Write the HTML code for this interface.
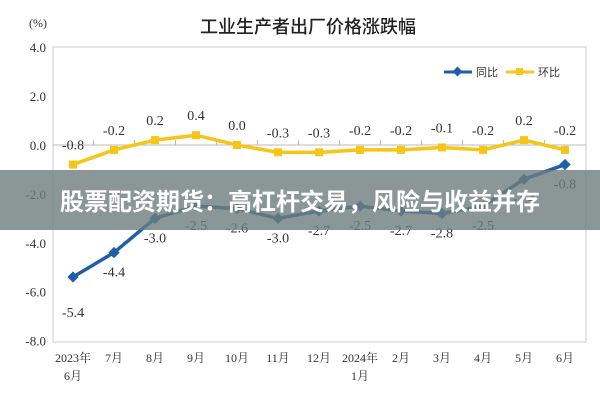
<!DOCTYPE html>
<html><head><meta charset="utf-8"><style>
body{margin:0;background:#fff;}
svg text{font-family:"Liberation Serif","Noto Serif CJK SC",serif;}
</style></head><body>
<svg id="c" width="600" height="400" xmlns="http://www.w3.org/2000/svg">
<text x="308" y="33" text-anchor="middle" font-size="18" fill="#222" style="font-family:'Noto Sans CJK SC',sans-serif;font-weight:500">工业生产者出厂价格涨跌幅</text>
<text x="38" y="27" text-anchor="middle" font-size="12" fill="#333">(%)</text>
<rect x="53" y="47" width="533" height="295" fill="none" stroke="#ccc"/>
<g id="g"></g>
<g>
<line x1="444" y1="72" x2="472" y2="72" stroke="#1f5fa8" stroke-width="3"/>
<rect x="454" y="68" width="7" height="7" fill="#1f5fa8" transform="rotate(45 457.5 71.5)"/>
<text x="476" y="76" font-size="11" fill="#333" style="font-family:'Noto Sans CJK SC',sans-serif">同比</text>
<line x1="506" y1="72" x2="534" y2="72" stroke="#f5c518" stroke-width="3"/>
<rect x="516" y="68" width="7" height="7" fill="#f5c518"/>
<text x="538" y="76" font-size="11" fill="#333" style="font-family:'Noto Sans CJK SC',sans-serif">环比</text>
</g>
<rect x="0" y="170" width="600" height="60" fill="rgba(110,125,125,0.8)"/>
<text x="300" y="210" text-anchor="middle" font-size="24" fill="#fff" style="font-family:'Noto Sans CJK SC',sans-serif;font-weight:bold">股票配资期货：高杠杆交易，风险与收益并存</text>
</svg>
<script>
const categories=["2023年|6月","7月","8月","9月","10月","11月","12月","2024年|1月","2月","3月","4月","5月","6月"];
const yoy=[-5.4,-4.4,-3.0,-2.5,-2.6,-3.0,-2.7,-2.5,-2.7,-2.8,-2.5,-1.4,-0.8];
const mom=[-0.8,-0.2,0.2,0.4,0.0,-0.3,-0.3,-0.2,-0.2,-0.1,-0.2,0.2,-0.2];
const yTicks=[4,2,0,-2,-4,-6,-8];
const ns="http://www.w3.org/2000/svg";
const g=document.getElementById('g');
const X=i=>73+i*41, Y=v=>145-v*24.45;
function el(t,a,p){const e=document.createElementNS(ns,t);for(const k in a)e.setAttribute(k,a[k]);(p||g).appendChild(e);return e;}
yTicks.forEach(v=>{const t=el('text',{x:46,y:Y(v)+5,'text-anchor':'end','font-size':13,fill:'#333'});t.textContent=v.toFixed(1);

});
const z=el('line',{x1:53,y1:Y(0),x2:586,y2:Y(0),stroke:'#bbb'});


categories.forEach((c,i)=>{const p=c.split('|');p.forEach((s,j)=>{const t=el('text',{x:X(i),y:362+j*18,'text-anchor':'middle','font-size':12,fill:'#333'});t.textContent=s;

});
if(i>0){const tk=el('line',{x1:X(i)-20.5,y1:Y(0)-5,x2:X(i)-20.5,y2:Y(0),stroke:'#bbb'});

}});
function series(d,col,name,diamond,labelAbove){
const l=el('polyline',{points:d.map((v,i)=>X(i)+','+Y(v)).join(' '),fill:'none',stroke:col,'stroke-width':3.5});


d.forEach((v,i)=>{const x=X(i),y=Y(v);
const m=el('rect',{x:x-4,y:y-4,width:8,height:8,fill:col,transform:diamond?`rotate(45 ${x} ${y})`:''});


const t=el('text',{x:x,y:labelAbove?y-15:y+(i===0?40:24),'text-anchor':'middle','font-size':14,fill:'#333'});
t.textContent=v.toFixed(1);

});}
series(mom,'#f5c518','mom',false,true);
series(yoy,'#1f5fa8','yoy',true,false);
</script>
</body></html>
